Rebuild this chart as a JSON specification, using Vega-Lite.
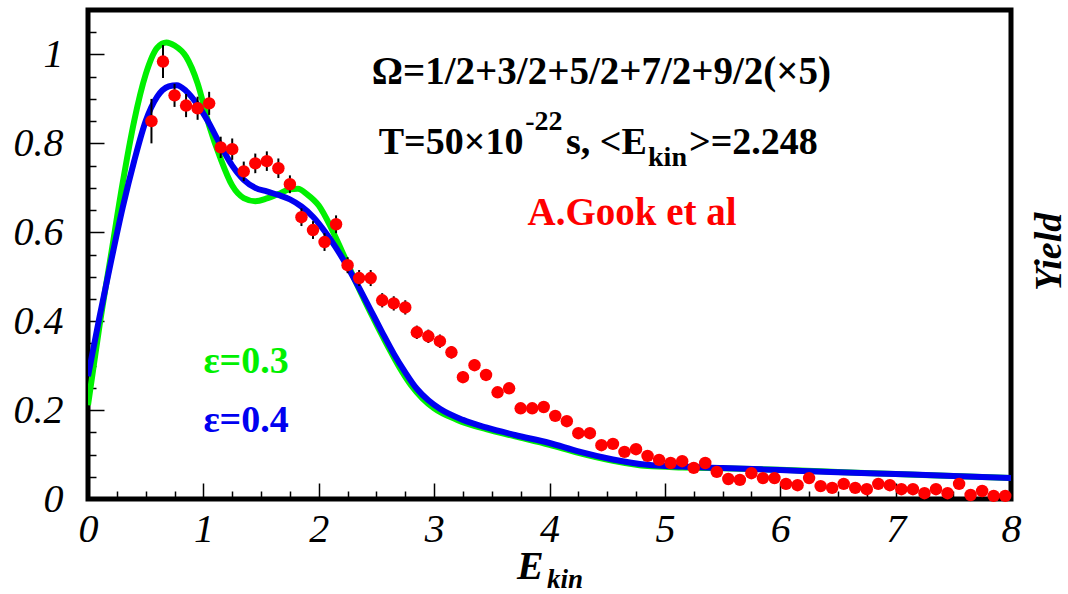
{
  "$schema": "https://vega.github.io/schema/vega-lite/v6.json",
  "width": 923,
  "height": 489,
  "autosize": {"type": "none"},
  "padding": {"left": 88, "top": 10, "right": 57, "bottom": 95},
  "background": "white",
  "config": {
    "view": {"stroke": "black", "strokeWidth": 5},
    "axis": {"domain": false, "grid": false, "tickColor": "black", "labelColor": "black", "labelFont": "Liberation Serif", "labelFontStyle": "italic", "labelFontSize": 40, "title": null}
  },
  "datasets": {
    "one": [{}],
    "gook": [
      {"x":0.55,"y":0.850,"lo":0.800,"hi":0.900},
      {"x":0.65,"y":0.984,"lo":0.947,"hi":1.021},
      {"x":0.75,"y":0.908,"lo":0.882,"hi":0.934},
      {"x":0.85,"y":0.885,"lo":0.859,"hi":0.911},
      {"x":0.95,"y":0.879,"lo":0.853,"hi":0.905},
      {"x":1.05,"y":0.890,"lo":0.864,"hi":0.916},
      {"x":1.15,"y":0.791,"lo":0.767,"hi":0.815},
      {"x":1.25,"y":0.787,"lo":0.763,"hi":0.811},
      {"x":1.35,"y":0.737,"lo":0.715,"hi":0.759},
      {"x":1.45,"y":0.755,"lo":0.733,"hi":0.777},
      {"x":1.55,"y":0.760,"lo":0.738,"hi":0.782},
      {"x":1.65,"y":0.744,"lo":0.722,"hi":0.766},
      {"x":1.75,"y":0.708,"lo":0.688,"hi":0.728},
      {"x":1.85,"y":0.634,"lo":0.614,"hi":0.654},
      {"x":1.95,"y":0.605,"lo":0.585,"hi":0.625},
      {"x":2.05,"y":0.578,"lo":0.558,"hi":0.598},
      {"x":2.15,"y":0.618,"lo":0.598,"hi":0.638},
      {"x":2.25,"y":0.526,"lo":0.508,"hi":0.544},
      {"x":2.35,"y":0.497,"lo":0.479,"hi":0.515},
      {"x":2.45,"y":0.497,"lo":0.479,"hi":0.515},
      {"x":2.55,"y":0.447,"lo":0.431,"hi":0.463},
      {"x":2.65,"y":0.440,"lo":0.424,"hi":0.456},
      {"x":2.75,"y":0.431,"lo":0.415,"hi":0.447},
      {"x":2.85,"y":0.375,"lo":0.360,"hi":0.390},
      {"x":2.95,"y":0.366,"lo":0.351,"hi":0.381},
      {"x":3.05,"y":0.355,"lo":0.340,"hi":0.370},
      {"x":3.15,"y":0.330,"lo":0.316,"hi":0.344},
      {"x":3.25,"y":0.274,"lo":0.261,"hi":0.287},
      {"x":3.35,"y":0.301,"lo":0.288,"hi":0.314},
      {"x":3.45,"y":0.279,"lo":0.266,"hi":0.292},
      {"x":3.55,"y":0.240,"lo":0.228,"hi":0.252},
      {"x":3.65,"y":0.249,"lo":0.237,"hi":0.261},
      {"x":3.75,"y":0.204,"lo":0.193,"hi":0.215},
      {"x":3.85,"y":0.204,"lo":0.193,"hi":0.215},
      {"x":3.95,"y":0.207,"lo":0.196,"hi":0.218},
      {"x":4.05,"y":0.187,"lo":0.177,"hi":0.197},
      {"x":4.15,"y":0.175,"lo":0.165,"hi":0.185},
      {"x":4.25,"y":0.148,"lo":0.138,"hi":0.158},
      {"x":4.35,"y":0.148,"lo":0.138,"hi":0.158},
      {"x":4.45,"y":0.121,"lo":0.112,"hi":0.130},
      {"x":4.55,"y":0.124,"lo":0.115,"hi":0.133},
      {"x":4.65,"y":0.106,"lo":0.097,"hi":0.115},
      {"x":4.75,"y":0.112,"lo":0.103,"hi":0.121},
      {"x":4.85,"y":0.097,"lo":0.089,"hi":0.105},
      {"x":4.95,"y":0.088,"lo":0.080,"hi":0.096},
      {"x":5.05,"y":0.081,"lo":0.073,"hi":0.089},
      {"x":5.15,"y":0.085,"lo":0.077,"hi":0.093},
      {"x":5.25,"y":0.070,"lo":0.063,"hi":0.077},
      {"x":5.35,"y":0.081,"lo":0.074,"hi":0.088},
      {"x":5.45,"y":0.061,"lo":0.054,"hi":0.068},
      {"x":5.55,"y":0.045,"lo":0.039,"hi":0.051},
      {"x":5.65,"y":0.043,"lo":0.037,"hi":0.049},
      {"x":5.75,"y":0.058,"lo":0.052,"hi":0.064},
      {"x":5.85,"y":0.047,"lo":0.041,"hi":0.053},
      {"x":5.95,"y":0.047,"lo":0.041,"hi":0.053},
      {"x":6.05,"y":0.034,"lo":0.029,"hi":0.039},
      {"x":6.15,"y":0.031,"lo":0.026,"hi":0.036},
      {"x":6.25,"y":0.047,"lo":0.042,"hi":0.052},
      {"x":6.35,"y":0.029,"lo":0.024,"hi":0.034},
      {"x":6.45,"y":0.025,"lo":0.020,"hi":0.030},
      {"x":6.55,"y":0.034,"lo":0.029,"hi":0.039},
      {"x":6.65,"y":0.025,"lo":0.020,"hi":0.030},
      {"x":6.75,"y":0.022,"lo":0.017,"hi":0.027},
      {"x":6.85,"y":0.034,"lo":0.029,"hi":0.039},
      {"x":6.95,"y":0.031,"lo":0.026,"hi":0.036},
      {"x":7.05,"y":0.022,"lo":0.017,"hi":0.027},
      {"x":7.15,"y":0.022,"lo":0.017,"hi":0.027},
      {"x":7.25,"y":0.013,"lo":0.009,"hi":0.017},
      {"x":7.35,"y":0.022,"lo":0.018,"hi":0.026},
      {"x":7.45,"y":0.013,"lo":0.009,"hi":0.017},
      {"x":7.55,"y":0.034,"lo":0.030,"hi":0.038},
      {"x":7.65,"y":0.009,"lo":0.005,"hi":0.013},
      {"x":7.75,"y":0.018,"lo":0.014,"hi":0.022},
      {"x":7.85,"y":0.007,"lo":0.003,"hi":0.011},
      {"x":7.95,"y":0.007,"lo":0.003,"hi":0.011}
    ],
    "curves": [
      {"eps":"0.3","x":0.0,"y":0.211},{"eps":"0.3","x":0.1,"y":0.39},{"eps":"0.3","x":0.2,"y":0.55},{"eps":"0.3","x":0.3,"y":0.71},{"eps":"0.3","x":0.4,"y":0.85},{"eps":"0.3","x":0.5,"y":0.955},{"eps":"0.3","x":0.6,"y":1.015},{"eps":"0.3","x":0.68,"y":1.027},{"eps":"0.3","x":0.75,"y":1.02},{"eps":"0.3","x":0.85,"y":0.995},{"eps":"0.3","x":0.95,"y":0.935},{"eps":"0.3","x":1.05,"y":0.84},{"eps":"0.3","x":1.15,"y":0.765},{"eps":"0.3","x":1.25,"y":0.705},{"eps":"0.3","x":1.35,"y":0.677},{"eps":"0.3","x":1.45,"y":0.670},{"eps":"0.3","x":1.55,"y":0.676},{"eps":"0.3","x":1.65,"y":0.686},{"eps":"0.3","x":1.75,"y":0.697},{"eps":"0.3","x":1.82,"y":0.698},{"eps":"0.3","x":1.9,"y":0.685},{"eps":"0.3","x":2.0,"y":0.660},{"eps":"0.3","x":2.1,"y":0.614},{"eps":"0.3","x":2.2,"y":0.558},{"eps":"0.3","x":2.3,"y":0.50},{"eps":"0.3","x":2.4,"y":0.445},{"eps":"0.3","x":2.5,"y":0.393},{"eps":"0.3","x":2.6,"y":0.343},{"eps":"0.3","x":2.7,"y":0.296},{"eps":"0.3","x":2.8,"y":0.256},{"eps":"0.3","x":2.9,"y":0.226},{"eps":"0.3","x":3.0,"y":0.204},{"eps":"0.3","x":3.2,"y":0.178},{"eps":"0.3","x":3.45,"y":0.157},{"eps":"0.3","x":3.7,"y":0.141},{"eps":"0.3","x":4.0,"y":0.122},{"eps":"0.3","x":4.25,"y":0.104},{"eps":"0.3","x":4.55,"y":0.086},{"eps":"0.3","x":4.85,"y":0.074},{"eps":"0.3","x":5.15,"y":0.071},{"eps":"0.3","x":5.5,"y":0.069},{"eps":"0.3","x":6.0,"y":0.066},{"eps":"0.3","x":6.5,"y":0.061},{"eps":"0.3","x":7.0,"y":0.056},{"eps":"0.3","x":7.5,"y":0.052},{"eps":"0.3","x":8.0,"y":0.047},
      {"eps":"0.4","x":0.0,"y":0.276},{"eps":"0.4","x":0.1,"y":0.41},{"eps":"0.4","x":0.2,"y":0.535},{"eps":"0.4","x":0.3,"y":0.655},{"eps":"0.4","x":0.4,"y":0.76},{"eps":"0.4","x":0.5,"y":0.85},{"eps":"0.4","x":0.6,"y":0.905},{"eps":"0.4","x":0.7,"y":0.928},{"eps":"0.4","x":0.77,"y":0.931},{"eps":"0.4","x":0.85,"y":0.918},{"eps":"0.4","x":0.95,"y":0.887},{"eps":"0.4","x":1.05,"y":0.845},{"eps":"0.4","x":1.15,"y":0.795},{"eps":"0.4","x":1.25,"y":0.750},{"eps":"0.4","x":1.35,"y":0.718},{"eps":"0.4","x":1.45,"y":0.700},{"eps":"0.4","x":1.55,"y":0.692},{"eps":"0.4","x":1.65,"y":0.684},{"eps":"0.4","x":1.75,"y":0.674},{"eps":"0.4","x":1.85,"y":0.658},{"eps":"0.4","x":1.95,"y":0.635},{"eps":"0.4","x":2.05,"y":0.603},{"eps":"0.4","x":2.15,"y":0.565},{"eps":"0.4","x":2.25,"y":0.522},{"eps":"0.4","x":2.35,"y":0.475},{"eps":"0.4","x":2.45,"y":0.425},{"eps":"0.4","x":2.55,"y":0.375},{"eps":"0.4","x":2.65,"y":0.327},{"eps":"0.4","x":2.75,"y":0.285},{"eps":"0.4","x":2.85,"y":0.248},{"eps":"0.4","x":2.95,"y":0.222},{"eps":"0.4","x":3.05,"y":0.203},{"eps":"0.4","x":3.25,"y":0.178},{"eps":"0.4","x":3.45,"y":0.161},{"eps":"0.4","x":3.7,"y":0.144},{"eps":"0.4","x":4.0,"y":0.126},{"eps":"0.4","x":4.25,"y":0.107},{"eps":"0.4","x":4.55,"y":0.089},{"eps":"0.4","x":4.85,"y":0.077},{"eps":"0.4","x":5.15,"y":0.073},{"eps":"0.4","x":5.5,"y":0.070},{"eps":"0.4","x":6.0,"y":0.065},{"eps":"0.4","x":6.5,"y":0.060},{"eps":"0.4","x":7.0,"y":0.056},{"eps":"0.4","x":7.5,"y":0.052},{"eps":"0.4","x":8.0,"y":0.047}
    ]
  },
  "resolve": {"axis": {"x": "independent", "y": "independent"}},
  "layer": [
    {
      "data": {"name": "curves"},
      "mark": {"type": "line", "strokeWidth": 6, "interpolate": "monotone", "clip": true},
      "encoding": {
        "x": {"field": "x", "type": "quantitative", "scale": {"domain": [0, 8], "nice": false, "zero": false},
              "axis": {"orient": "bottom", "values": [0.25,0.5,0.75,1.25,1.5,1.75,2.25,2.5,2.75,3.25,3.5,3.75,4.25,4.5,4.75,5.25,5.5,5.75,6.25,6.5,6.75,7.25,7.5,7.75], "labels": false, "tickSize": -8, "tickWidth": 1.5}},
        "y": {"field": "y", "type": "quantitative", "scale": {"domain": [0, 1.1], "nice": false, "zero": false},
              "axis": {"orient": "left", "values": [0.05,0.1,0.15,0.25,0.3,0.35,0.45,0.5,0.55,0.65,0.7,0.75,0.85,0.9,0.95,1.05], "labels": false, "tickSize": -8, "tickWidth": 1.5}},
        "color": {"field": "eps", "type": "nominal", "scale": {"domain": ["0.3", "0.4"], "range": ["#00f000", "#0000f0"]}, "legend": null}
      }
    },
    {
      "data": {"name": "gook"},
      "mark": {"type": "rule", "color": "black", "strokeWidth": 2},
      "encoding": {
        "x": {"field": "x", "type": "quantitative",
              "axis": {"orient": "bottom", "values": [0,1,2,3,4,5,6,7,8], "format": "d", "tickSize": -16, "tickWidth": 1.5, "labelPadding": 26, "labelFlush": false}},
        "y": {"field": "lo", "type": "quantitative",
              "axis": {"orient": "left", "values": [0,0.2,0.4,0.6,0.8,1], "format": "~g", "tickSize": -16, "tickWidth": 1.5, "labelPadding": 41, "labelFlush": false}},
        "y2": {"field": "hi"}
      }
    },
    {
      "data": {"name": "gook"},
      "mark": {"type": "circle", "color": "#ff0000", "opacity": 1, "size": 155},
      "encoding": {
        "x": {"field": "x", "type": "quantitative", "axis": null},
        "y": {"field": "y", "type": "quantitative", "axis": null}
      }
    },
    {
      "data": {"name": "one"},
      "mark": {"type": "text", "text": "Ω=1/2+3/2+5/2+7/2+9/2(×5)", "font": "Liberation Serif", "fontSize": 39, "fontWeight": "bold", "align": "left", "baseline": "alphabetic", "color": "black"},
      "encoding": {"x": {"datum": 2.46, "type": "quantitative", "axis": null}, "y": {"datum": 0.934, "type": "quantitative", "axis": null}}
    },
    {
      "data": {"name": "one"},
      "mark": {"type": "text", "text": "T=50×10", "font": "Liberation Serif", "fontSize": 38, "fontWeight": "bold", "align": "left", "baseline": "alphabetic", "color": "black"},
      "encoding": {"x": {"datum": 2.52, "type": "quantitative", "axis": null}, "y": {"datum": 0.776, "type": "quantitative", "axis": null}}
    },
    {
      "data": {"name": "one"},
      "mark": {"type": "text", "text": "-22", "font": "Liberation Serif", "fontSize": 28, "fontWeight": "bold", "align": "left", "baseline": "alphabetic", "color": "black"},
      "encoding": {"x": {"datum": 3.79, "type": "quantitative", "axis": null}, "y": {"datum": 0.830, "type": "quantitative", "axis": null}}
    },
    {
      "data": {"name": "one"},
      "mark": {"type": "text", "text": "s, <E", "font": "Liberation Serif", "fontSize": 38, "fontWeight": "bold", "align": "left", "baseline": "alphabetic", "color": "black"},
      "encoding": {"x": {"datum": 4.143, "type": "quantitative", "axis": null}, "y": {"datum": 0.776, "type": "quantitative", "axis": null}}
    },
    {
      "data": {"name": "one"},
      "mark": {"type": "text", "text": "kin", "font": "Liberation Serif", "fontSize": 28, "fontWeight": "bold", "align": "left", "baseline": "alphabetic", "color": "black"},
      "encoding": {"x": {"datum": 4.854, "type": "quantitative", "axis": null}, "y": {"datum": 0.748, "type": "quantitative", "axis": null}}
    },
    {
      "data": {"name": "one"},
      "mark": {"type": "text", "text": ">=2.248", "font": "Liberation Serif", "fontSize": 38, "fontWeight": "bold", "align": "left", "baseline": "alphabetic", "color": "black"},
      "encoding": {"x": {"datum": 5.209, "type": "quantitative", "axis": null}, "y": {"datum": 0.776, "type": "quantitative", "axis": null}}
    },
    {
      "data": {"name": "one"},
      "mark": {"type": "text", "text": "A.Gook et al", "font": "Liberation Serif", "fontSize": 39, "fontWeight": "bold", "align": "left", "baseline": "alphabetic", "color": "#ff0000"},
      "encoding": {"x": {"datum": 3.81, "type": "quantitative", "axis": null}, "y": {"datum": 0.616, "type": "quantitative", "axis": null}}
    },
    {
      "data": {"name": "one"},
      "mark": {"type": "text", "text": "ε=0.3", "font": "Liberation Serif", "fontSize": 38, "fontWeight": "bold", "align": "left", "baseline": "alphabetic", "color": "#00f000"},
      "encoding": {"x": {"datum": 1.0, "type": "quantitative", "axis": null}, "y": {"datum": 0.283, "type": "quantitative", "axis": null}}
    },
    {
      "data": {"name": "one"},
      "mark": {"type": "text", "text": "ε=0.4", "font": "Liberation Serif", "fontSize": 38, "fontWeight": "bold", "align": "left", "baseline": "alphabetic", "color": "#0000f0"},
      "encoding": {"x": {"datum": 1.0, "type": "quantitative", "axis": null}, "y": {"datum": 0.151, "type": "quantitative", "axis": null}}
    },
    {
      "data": {"name": "one"},
      "mark": {"type": "text", "text": "E", "font": "Liberation Serif", "fontSize": 40, "fontWeight": "bold", "fontStyle": "italic", "align": "left", "baseline": "alphabetic", "color": "black"},
      "encoding": {"x": {"datum": 3.718, "type": "quantitative", "axis": null}, "y": {"datum": -0.18, "type": "quantitative", "axis": null}}
    },
    {
      "data": {"name": "one"},
      "mark": {"type": "text", "text": "kin", "font": "Liberation Serif", "fontSize": 27, "fontWeight": "bold", "fontStyle": "italic", "align": "left", "baseline": "alphabetic", "color": "black"},
      "encoding": {"x": {"datum": 3.978, "type": "quantitative", "axis": null}, "y": {"datum": -0.2, "type": "quantitative", "axis": null}}
    },
    {
      "data": {"name": "one"},
      "mark": {"type": "text", "text": "Yield", "font": "Liberation Serif", "fontSize": 38, "fontWeight": "bold", "fontStyle": "italic", "align": "center", "baseline": "middle", "angle": 270, "color": "black"},
      "encoding": {"x": {"datum": 8.338, "type": "quantitative", "axis": null}, "y": {"datum": 0.556, "type": "quantitative", "axis": null}}
    }
  ]
}
